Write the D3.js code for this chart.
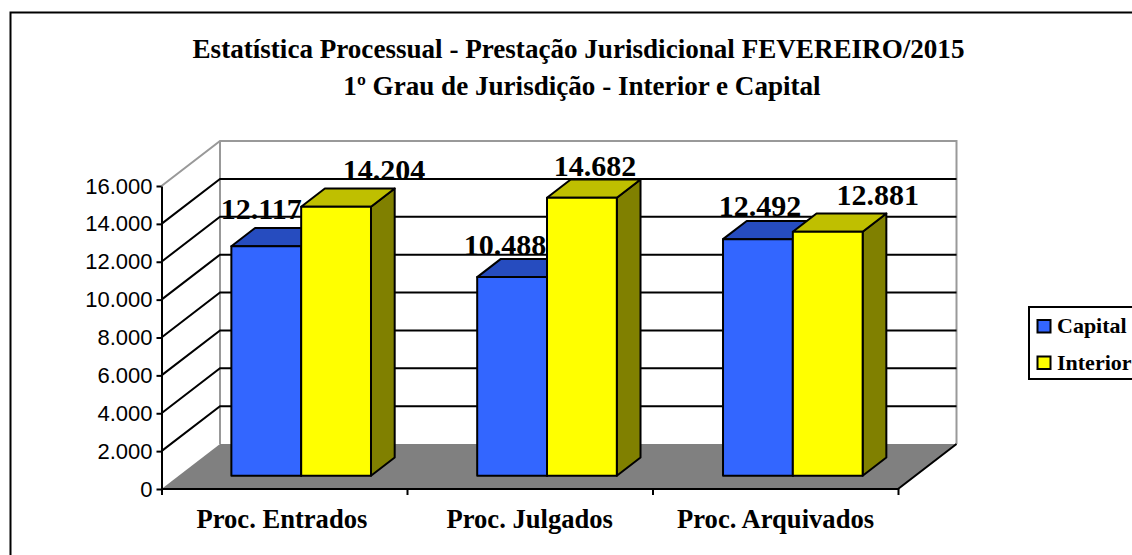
<!DOCTYPE html>
<html>
<head>
<meta charset="utf-8">
<script src="https://cdn.jsdelivr.net/npm/d3@7"></script>
<style>
  html, body { margin: 0; padding: 0; background: #fff; overflow: hidden; }
  svg { display: block; }
  .serif { font-family: "Liberation Serif", serif; font-weight: bold; fill: #000; }
</style>
</head>
<body>
<svg id="chart" width="1132" height="555"></svg>
<script>
// Chart data
const categories = ['Proc. Entrados', 'Proc. Julgados', 'Proc. Arquivados'];
const capitalValues = [12117, 10488, 12492];
const interiorValues = [14204, 14682, 12881];
const yTicks = [0, 2000, 4000, 6000, 8000, 10000, 12000, 14000, 16000];
const titleLines = [
  'Estatística Processual - Prestação Jurisdicional FEVEREIRO/2015',
  '1º Grau de Jurisdição - Interior e Capital'
];

const series = [
  {name: 'Capital', values: capitalValues, front: '#3366ff', top: '#264cbf', side: '#1f3f9f'},
  {name: 'Interior', values: interiorValues, front: '#ffff00', top: '#bfbf00', side: '#808000'}
];

// Excel moved the value labels by hand, so they sit off the bar centres
const labelShift = {
  Capital: [[-5, -27], [-7, -22], [2, -23]],
  Interior: [[48, -27], [13, -22], [50, -27]]
};
const categoryShift = [-2, 0, 0];

// Pseudo 3D projection: z=0 is the front edge of the floor, z=1 the back wall
const originX = 161.5, originY = 489;
const depthX = 58.5, depthY = -45;
const plotWidth = 736.5;
const project = (x, h, z) => [originX + x + depthX * z, originY - h + depthY * z];

const y = d3.scaleLinear().domain([0, 16000]).range([0, 303]);
const xBand = d3.scaleBand().domain(categories).range([0, plotWidth])
  .paddingInner(0.432).paddingOuter(0.214);
const xSeries = d3.scaleBand().domain(series.map(s => s.name)).range([0, xBand.bandwidth()]);
const barZ = [0.295, 0.70];

const ptBR = d3.formatLocale({decimal: ',', thousands: '.', grouping: [3], currency: ['R$', '']});
const fmt = ptBR.format(',d');

const svg = d3.select('#chart');
const poly = pts => pts.map(p => p.join(',')).join(' ');

// Outer frame, right and bottom edges are cut off in the picture
svg.append('path')
  .attr('d', 'M10.5,555V12.5H1132')
  .attr('fill', 'none').attr('stroke', '#000').attr('stroke-width', 2);

// Title
svg.append('g').selectAll('text')
  .data(titleLines)
  .join('text')
  .attr('class', 'serif')
  .attr('x', (d, i) => i === 0 ? 578.5 : 582)
  .attr('y', (d, i) => i === 0 ? 58 : 95)
  .attr('text-anchor', 'middle')
  .style('font-size', '27.1px')
  .text(d => d);

// Walls
const wallColor = '#999999';
svg.append('polyline')
  .attr('points', poly([project(0, y(16000), 0), project(0, y(16000), 1), project(plotWidth, y(16000), 1), project(plotWidth, 0, 1)]))
  .attr('fill', 'none').attr('stroke', wallColor).attr('stroke-width', 2);
svg.append('line')
  .attr('x1', project(0, 0, 1)[0]).attr('x2', project(0, 0, 1)[0])
  .attr('y1', project(0, y(16000), 1)[1]).attr('y2', project(0, 0, 1)[1])
  .attr('stroke', wallColor).attr('stroke-width', 2);

// Gridlines run along the side wall and then along the back wall
svg.append('g').selectAll('polyline')
  .data(yTicks.filter(t => t > 0 && t < 16000))
  .join('polyline')
  .attr('points', d => poly([project(0, y(d), 0), project(0, y(d), 1), project(plotWidth, y(d), 1)]))
  .attr('fill', 'none').attr('stroke', '#000').attr('stroke-width', 2);

// Floor
svg.append('polygon')
  .attr('points', poly([project(0, 0, 0), project(0, 0, 1), project(plotWidth, 0, 1), project(plotWidth, 0, 0)]))
  .attr('fill', '#808080');
svg.append('polyline')
  .attr('points', poly([project(plotWidth, 0, 1), project(plotWidth, 0, 0), project(0, 0, 0)]))
  .attr('fill', 'none').attr('stroke', '#000').attr('stroke-width', 2);

// Bars
series.forEach(s => {
  const g = svg.append('g').attr('stroke', '#000').attr('stroke-width', 2).attr('stroke-linejoin', 'round');
  categories.forEach((c, i) => {
    const x0 = xBand(c) + xSeries(s.name), x1 = x0 + xSeries.bandwidth();
    const h = y(s.values[i]);
    const [zf, zb] = barZ;
    g.append('polygon').attr('fill', s.side)
      .attr('points', poly([project(x1, 0, zf), project(x1, 0, zb), project(x1, h, zb), project(x1, h, zf)]));
    g.append('polygon').attr('fill', s.top)
      .attr('points', poly([project(x0, h, zf), project(x0, h, zb), project(x1, h, zb), project(x1, h, zf)]));
    g.append('polygon').attr('fill', s.front)
      .attr('points', poly([project(x0, 0, zf), project(x1, 0, zf), project(x1, h, zf), project(x0, h, zf)]));
  });
});

// Value labels
series.forEach(s => {
  svg.append('g').selectAll('text')
    .data(s.values)
    .join('text')
    .attr('class', 'serif')
    .attr('text-anchor', 'middle')
    .attr('x', (d, i) => project(xBand(categories[i]) + xSeries(s.name) + xSeries.bandwidth() / 2, y(d), barZ[0])[0] + labelShift[s.name][i][0])
    .attr('y', (d, i) => project(0, y(d), barZ[0])[1] + labelShift[s.name][i][1])
    .style('font-size', '30px')
    .text(d => fmt(d));
});

// Value axis
const yAxisScale = d3.scaleLinear().domain([0, 16000]).range([originY, originY - 303]);
const yAxis = svg.append('g')
  .attr('transform', `translate(${originX},0)`)
  .call(d3.axisLeft(yAxisScale).tickValues(yTicks).tickFormat(fmt).tickSize(5).tickSizeOuter(0).tickPadding(4));
yAxis.selectAll('line, path').attr('stroke', '#000').attr('stroke-width', 2);
yAxis.selectAll('text')
  .attr('fill', '#000')
  .style('font-family', '"Liberation Sans", sans-serif')
  .style('font-size', '22px');

// Category axis: ticks sit between the groups
const xTickScale = d3.scaleLinear().domain([0, categories.length]).range([originX, originX + plotWidth]);
const xAxis = svg.append('g')
  .attr('transform', `translate(0,${originY})`)
  .call(d3.axisBottom(xTickScale).tickValues(d3.range(categories.length + 1)).tickFormat('').tickSize(6).tickSizeOuter(0));
xAxis.selectAll('line').attr('stroke', '#000').attr('stroke-width', 2);
xAxis.select('path').attr('stroke', 'none');

svg.append('g').selectAll('text')
  .data(categories)
  .join('text')
  .attr('class', 'serif')
  .attr('text-anchor', 'middle')
  .attr('x', (d, i) => originX + xBand(d) + xBand.bandwidth() / 2 + categoryShift[i])
  .attr('y', 528)
  .style('font-size', '26.6px')
  .text(d => d);

// Legend, it runs off the right edge like the original
const legend = svg.append('g');
legend.append('rect')
  .attr('x', 1029).attr('y', 307).attr('width', 120).attr('height', 72)
  .attr('fill', '#fff').attr('stroke', '#000').attr('stroke-width', 2);
const legendItems = legend.selectAll('g')
  .data(series)
  .join('g')
  .attr('transform', (d, i) => `translate(1037.5,${320 + i * 36.5})`);
legendItems.append('rect')
  .attr('width', 13).attr('height', 12.5)
  .attr('fill', d => d.front).attr('stroke', '#000').attr('stroke-width', 2);
legendItems.append('text')
  .attr('class', 'serif')
  .attr('x', 19.5).attr('y', 13)
  .style('font-size', '22px')
  .text(d => d.name);
</script>
</body>
</html>
